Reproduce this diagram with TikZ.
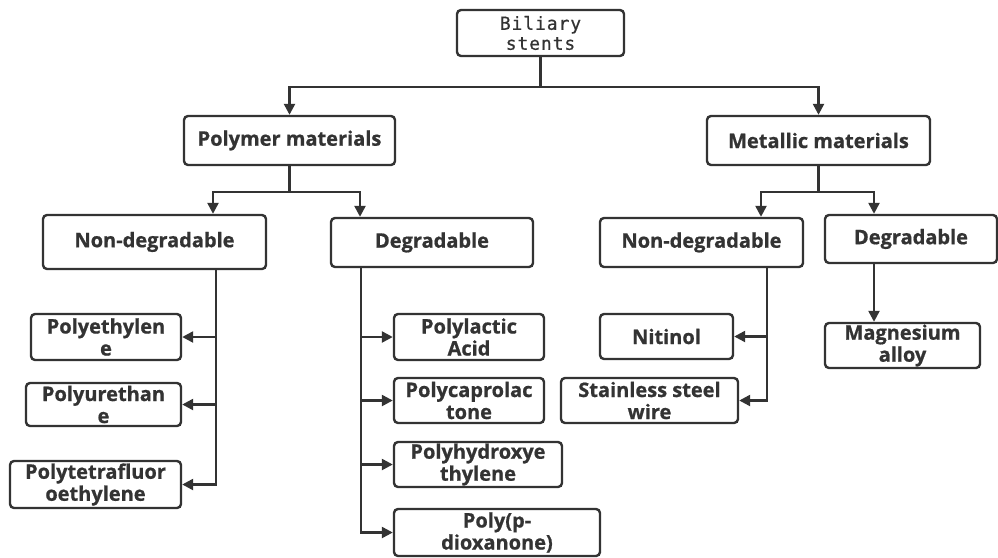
\documentclass[tikz,border=0pt]{standalone}
\usepackage{fontspec}
\setmainfont{Open Sans}[BoldFeatures={FakeBold=0.8}]
\newfontfamily\stentfont{DejaVu Sans Mono}[LetterSpace=5,FakeBold=0.6]
\usetikzlibrary{arrows.meta}
\definecolor{ink}{HTML}{333333}

\begin{document}
\begin{tikzpicture}[x=1pt,y=-1pt,>={Triangle[length=11pt,width=11pt]},
  box/.style={draw=ink,line width=2.4pt,rounded corners=4pt,inner sep=0pt,align=center,text=ink,
    font=\bfseries\fontsize{20}{22}\selectfont},
  arr/.style={->,draw=ink,line width=2.4pt}]
\useasboundingbox (0,0) rectangle (998,557);
% top levels
\node[box,minimum width=167,minimum height=46,font=\stentfont\fontsize{18}{20}\selectfont] (bs) at (540.5,33) {Biliary\\stents};
\node[box,minimum width=211,minimum height=49] (pm) at (289.5,140.5) {Polymer materials};
\node[box,minimum width=223,minimum height=49] (mm) at (818.5,140.5) {Metallic materials};
\node[box,minimum width=223,minimum height=54] (pnd) at (154.5,242) {Non-degradable};
\node[box,minimum width=202,minimum height=49] (pdg) at (432,242.5) {Degradable};
\node[box,minimum width=203,minimum height=49] (mnd) at (701.5,242.5) {Non-degradable};
\node[box,minimum width=172,minimum height=48] (mdg) at (911,239) {Degradable};
% leaves
\node[box,minimum width=150,minimum height=46] (pe) at (106,337) {Polyethylen\\e};
\node[box,minimum width=155,minimum height=43] (pu) at (103.5,404.5) {Polyurethan\\e};
\node[box,minimum width=171,minimum height=47] (ptfe) at (95.5,484.5) {Polytetrafluor\\oethylene};
\node[box,minimum width=150,minimum height=46] (pla) at (469,337) {Polylactic\\Acid};
\node[box,minimum width=150,minimum height=45] (pcl) at (469,400.5) {Polycaprolac\\tone};
\node[box,minimum width=168,minimum height=45] (phe) at (478,464.5) {Polyhydroxye\\thylene};
\node[box,minimum width=206,minimum height=47] (ppdo) at (497,532.5) {Poly(p-\\dioxanone)};
\node[box,minimum width=133,minimum height=45] (nit) at (666.5,336.5) {Nitinol};
\node[box,minimum width=177,minimum height=45] (ssw) at (649.5,400.5) {Stainless steel\\wire};
\node[box,minimum width=155,minimum height=45] (mg) at (902.5,345.5) {Magnesium\\alloy};
% connectors
\draw[arr] (bs.south) -- ++(0,30) -| (pm.north);
\draw[arr] (bs.south) -- ++(0,30) -| (mm.north);
\draw[arr] (pm.south) -- ++(0,26) -| ([xshift=58.5]pnd.north);
\draw[arr] (pm.south) -- ++(0,26) -| ([xshift=-72]pdg.north);
\draw[arr] (mm.south) -- ++(0,26) -| ([xshift=59.5]mnd.north);
\draw[arr] (mm.south) -- ++(0,26) -| ([xshift=-37]mdg.north);
\foreach \c in {pe,pu,ptfe} \draw[arr] ([xshift=61.5]pnd.south) |- (\c);
\foreach \c in {pla,pcl,phe,ppdo} \draw[arr] ([xshift=-71]pdg.south) |- (\c);
\foreach \c in {nit,ssw} \draw[arr] ([xshift=65.5]mnd.south) |- (\c);
\draw[arr] ([xshift=-37]mdg.south) -- ([xshift=-28.5]mg.north);
\end{tikzpicture}
\end{document}
